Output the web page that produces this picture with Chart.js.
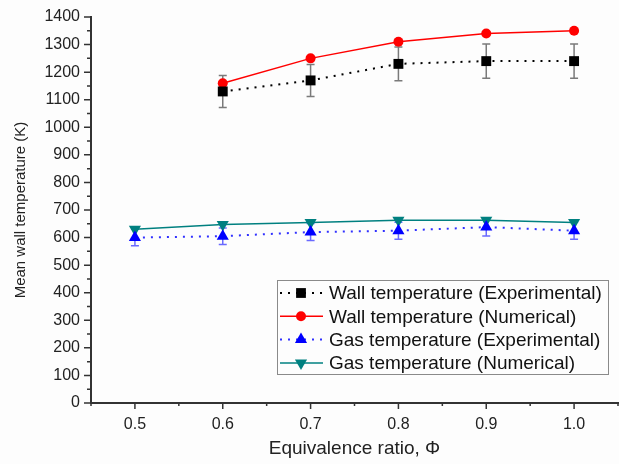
<!DOCTYPE html>
<html>
<head>
<meta charset="utf-8">
<script src="https://cdn.jsdelivr.net/npm/chart.js@4"></script>
<style>
  html, body { margin: 0; padding: 0; background: #fdfdfd; }
  #wrap { width: 619px; height: 464px; position: relative; }
</style>
</head>
<body>
<div id="wrap"><canvas id="tempChart"></canvas></div>
<script>
const phiWall = [0.6, 0.7, 0.8, 0.9, 1.0];
const phiGas = [0.5, 0.6, 0.7, 0.8, 0.9, 1.0];
const wallExp = [1130, 1170, 1230, 1240, 1240];
const wallExpErr = [58, 58, 61, 62, 62];
const wallNum = [1160, 1250, 1310, 1340, 1350];
const gasExp = [600, 605, 620, 625, 638, 625];
const gasExpErr = [30, 30, 31, 31, 32, 31];
const gasNum = [630, 647, 655, 663, 663, 655];
const xTicks = [0.5, 0.6, 0.7, 0.8, 0.9, 1.0];

const FONT = 'Liberation Sans, Arial, sans-serif';

function pts(xs, ys) {
    return xs.map((x, i) => ({ x: x, y: ys[i] }));
}

// error bars drawn under the markers
const errorBars = {
    id: 'errorBars',
    beforeDatasetsDraw(chart) {
        const { ctx, scales: { x, y } } = chart;
        const sets = [
            { xs: phiWall, ys: wallExp, err: wallExpErr, color: '#7a7a7a' },
            { xs: phiGas, ys: gasExp, err: gasExpErr, color: '#6a6aff' }
        ];
        ctx.save();
        ctx.lineWidth = 1.5;
        sets.forEach(s => {
            ctx.strokeStyle = s.color;
            s.xs.forEach((v, i) => {
                const px = x.getPixelForValue(v);
                const top = y.getPixelForValue(s.ys[i] + s.err[i]);
                const bot = y.getPixelForValue(s.ys[i] - s.err[i]);
                ctx.beginPath();
                ctx.moveTo(px, top); ctx.lineTo(px, bot);
                ctx.moveTo(px - 4, top); ctx.lineTo(px + 4, top);
                ctx.moveTo(px - 4, bot); ctx.lineTo(px + 4, bot);
                ctx.stroke();
            });
        });
        ctx.restore();
    }
};

// major + minor tick marks, outward
const tickMarks = {
    id: 'tickMarks',
    afterDraw(chart) {
        const { ctx, scales: { x, y } } = chart;
        ctx.save();
        ctx.strokeStyle = '#333';
        ctx.lineWidth = 1.5;
        ctx.beginPath();
        for (let v = 0; v <= 1400; v += 50) {
            const py = y.getPixelForValue(v);
            const len = v % 100 === 0 ? 7 : 4;
            ctx.moveTo(x.left, py); ctx.lineTo(x.left - len, py);
        }
        for (let k = 9; k <= 21; k++) {
            const v = k * 0.05;
            const px = x.getPixelForValue(v);
            const len = k % 2 === 0 ? 6 : 3;
            ctx.moveTo(px, y.bottom); ctx.lineTo(px, y.bottom + len);
        }
        ctx.stroke();
        ctx.restore();
    }
};

// legend box inside the plot
const boxLegend = {
    id: 'boxLegend',
    afterDraw(chart) {
        const { ctx } = chart;
        const left = 277, top = 280, w = 331, h = 94;
        ctx.save();
        ctx.fillStyle = '#fdfdfd';
        ctx.fillRect(left, top, w, h);
        ctx.strokeStyle = '#8a8a8a';
        ctx.lineWidth = 1;
        ctx.strokeRect(left + 0.5, top + 0.5, w, h);
        chart.data.datasets.forEach((ds, i) => {
            const yy = top + 13 + i * 23.3;
            ctx.strokeStyle = ds.borderColor;
            ctx.lineWidth = ds.borderWidth;
            ctx.setLineDash(ds.borderDash || []);
            ctx.beginPath();
            ctx.moveTo(left + 3, yy); ctx.lineTo(left + 46, yy);
            ctx.stroke();
            ctx.setLineDash([]);
            drawMarker(ctx, ds.pointStyle, ds.pointRotation || 0, left + 24, yy, ds.pointRadius, ds.pointBackgroundColor);
            ctx.fillStyle = '#111';
            ctx.font = '19px ' + FONT;
            ctx.textBaseline = 'middle';
            ctx.fillText(ds.label, left + 52, yy + 1);
        });
        ctx.restore();
    }
};

function drawMarker(ctx, style, rot, cx, cy, r, color) {
    ctx.fillStyle = color;
    ctx.beginPath();
    if (style === 'rect') {
        ctx.rect(cx - r * 0.7, cy - r * 0.7, r * 1.4, r * 1.4);
    } else if (style === 'circle') {
        ctx.arc(cx, cy, r, 0, Math.PI * 2);
    } else {
        const s = rot ? -1 : 1;
        ctx.moveTo(cx, cy - s * r);
        ctx.lineTo(cx + r * 0.87, cy + s * r * 0.5);
        ctx.lineTo(cx - r * 0.87, cy + s * r * 0.5);
        ctx.closePath();
    }
    ctx.fill();
}

const ctx = document.getElementById('tempChart').getContext('2d');

new Chart(ctx, {
    type: 'line',
    data: {
        datasets: [
            {
                label: 'Wall temperature (Experimental)',
                data: pts(phiWall, wallExp),
                borderColor: '#000',
                borderWidth: 2,
                borderDash: [2, 6],
                pointStyle: 'rect',
                pointRadius: 7,
                pointBackgroundColor: '#000',
                pointBorderWidth: 0
            },
            {
                label: 'Wall temperature (Numerical)',
                data: pts(phiWall, wallNum),
                borderColor: '#ff0000',
                borderWidth: 1.5,
                pointStyle: 'circle',
                pointRadius: 5,
                pointBackgroundColor: '#ff0000',
                pointBorderWidth: 0
            },
            {
                label: 'Gas temperature (Experimental)',
                data: pts(phiGas, gasExp),
                borderColor: '#3030ff',
                borderWidth: 2,
                borderDash: [2, 6],
                pointStyle: 'triangle',
                pointRadius: 7,
                pointBackgroundColor: '#0000ff',
                pointBorderWidth: 0
            },
            {
                label: 'Gas temperature (Numerical)',
                data: pts(phiGas, gasNum),
                borderColor: '#008080',
                borderWidth: 1.5,
                pointStyle: 'triangle',
                pointRotation: 180,
                pointRadius: 7,
                pointBackgroundColor: '#008080',
                pointBorderWidth: 0
            }
        ]
    },
    options: {
        responsive: true,
        maintainAspectRatio: false,
        animation: false,
        layout: { autoPadding: false, padding: { top: 17, right: 1, left: 0, bottom: 0 } },
        elements: { line: { tension: 0 } },
        scales: {
            x: {
                type: 'linear',
                min: 0.45,
                max: 1.05,
                afterBuildTicks: s => { s.ticks = xTicks.map(v => ({ value: v })); },
                afterFit: s => { s.height = 61; s.paddingLeft = 0; s.paddingRight = 0; },
                grid: { display: false, drawTicks: false },
                border: { display: true, color: '#333', width: 2 },
                ticks: {
                    color: '#222',
                    padding: 12,
                    font: { family: FONT, size: 16 },
                    callback: v => v.toFixed(1)
                },
                title: {
                    display: true,
                    text: 'Equivalence ratio, \u03A6',
                    color: '#222',
                    font: { family: FONT, size: 19 },
                    padding: { top: 13 }
                }
            },
            y: {
                min: 0,
                max: 1400,
                afterFit: s => { s.width = 91; s.paddingTop = 0; s.paddingBottom = 0; },
                grid: { display: false, drawTicks: false },
                border: { display: true, color: '#333', width: 2 },
                ticks: {
                    stepSize: 100,
                    color: '#222',
                    padding: 11,
                    font: { family: FONT, size: 16 },
                    callback: v => String(v)
                },
                title: {
                    display: true,
                    text: 'Mean wall temperature (K)',
                    color: '#222',
                    font: { family: FONT, size: 15 },
                    padding: { top: 12, bottom: 4 }
                }
            }
        },
        plugins: {
            legend: { display: false },
            tooltip: { enabled: false }
        }
    },
    plugins: [errorBars, tickMarks, boxLegend]
});
</script>
</body>
</html>
